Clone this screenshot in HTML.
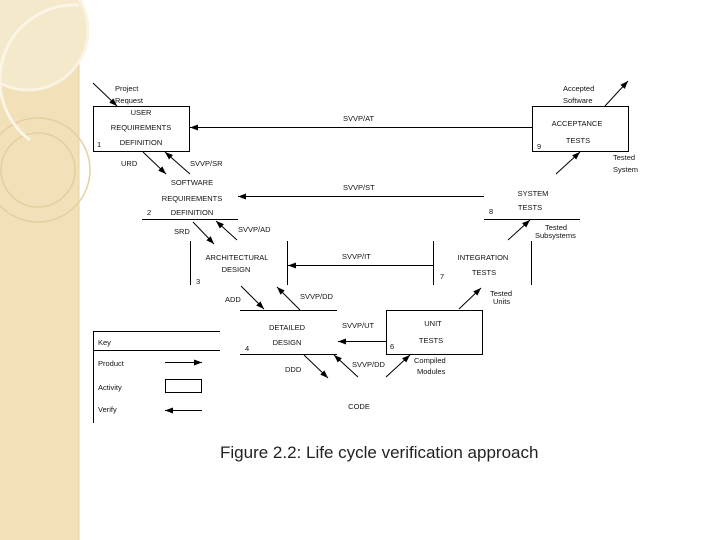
<!DOCTYPE html>
<html><head><meta charset="utf-8"><style>
html,body{margin:0;padding:0;background:#fff;}
svg{display:block;}
text{font-family:"Liberation Sans",sans-serif;font-size:7.5px;fill:#111;}
.c{text-anchor:middle;}
</style></head><body>
<svg width="720" height="540" viewBox="0 0 720 540" xmlns="http://www.w3.org/2000/svg">
<defs>
<marker id="a" markerWidth="8" markerHeight="6" refX="8" refY="3" orient="auto" markerUnits="userSpaceOnUse"><path d="M0,0 L8,3 L0,6 Z" fill="#000"/></marker>
</defs>
<rect x="0" y="0" width="79" height="540" fill="#f1e0b8"/>
<line x1="79" y1="0" x2="79" y2="540" stroke="#e6d3a6" stroke-width="1"/>
<circle cx="28" cy="30" r="60" fill="#f5e9cc" stroke="#fbf3e2" stroke-width="3"/>
<circle cx="38" cy="170" r="52" fill="none" stroke="#e5cf9f" stroke-width="1.5"/>
<circle cx="38" cy="170" r="37" fill="none" stroke="#e5cf9f" stroke-width="1.5"/>
<path d="M79,5 A75,75 0 0 0 30,140" fill="none" stroke="#fbf5e6" stroke-width="3"/>

<g stroke="#000" stroke-width="1" fill="none">
<rect x="93.5" y="106.5" width="96" height="45"/>
<rect x="532.5" y="106.5" width="96" height="45"/>
<rect x="386.5" y="310.5" width="96" height="44"/>
<line x1="142" y1="219.5" x2="238" y2="219.5"/>
<line x1="484" y1="219.5" x2="580" y2="219.5"/>
<line x1="190.5" y1="241" x2="190.5" y2="285"/>
<line x1="287.5" y1="241" x2="287.5" y2="285"/>
<line x1="433.5" y1="241" x2="433.5" y2="285"/>
<line x1="531.5" y1="241" x2="531.5" y2="285"/>
<line x1="240" y1="310.5" x2="337" y2="310.5"/>
<line x1="240" y1="354.5" x2="337" y2="354.5"/>
<!-- key -->
<line x1="93" y1="331.5" x2="220" y2="331.5"/>
<line x1="93" y1="350.5" x2="220" y2="350.5"/>
<line x1="93.5" y1="331" x2="93.5" y2="423"/>
<rect x="165.5" y="379.5" width="36" height="13"/>
</g>
<g stroke="#000" stroke-width="1" marker-end="url(#a)">
<line x1="93" y1="83" x2="117" y2="106"/>
<line x1="532" y1="127.5" x2="190" y2="127.5"/>
<line x1="605" y1="106" x2="628" y2="81"/>
<line x1="556" y1="174" x2="580" y2="152"/>
<line x1="143" y1="152" x2="166" y2="174"/>
<line x1="190" y1="174" x2="165" y2="152"/>
<line x1="484" y1="196.5" x2="238" y2="196.5"/>
<line x1="508" y1="240" x2="530" y2="220"/>
<line x1="193" y1="222" x2="214" y2="244"/>
<line x1="237" y1="240" x2="216" y2="221"/>
<line x1="433" y1="265.5" x2="288" y2="265.5"/>
<line x1="459" y1="309" x2="481" y2="288"/>
<line x1="241" y1="286" x2="264" y2="309"/>
<line x1="300" y1="310" x2="277" y2="287"/>
<line x1="386" y1="341.5" x2="338" y2="341.5"/>
<line x1="304" y1="355" x2="328" y2="378"/>
<line x1="358" y1="377" x2="334" y2="355"/>
<line x1="386" y1="377" x2="410" y2="355"/>
<line x1="165" y1="362.5" x2="202" y2="362.5"/>
<line x1="202" y1="410.5" x2="165" y2="410.5"/>
</g>

<text x="115" y="91">Project</text>
<text x="115" y="103">Request</text>
<text class="c" x="141" y="115">USER</text>
<text class="c" x="141" y="130">REQUIREMENTS</text>
<text class="c" x="141" y="145">DEFINITION</text>
<text x="97" y="147">1</text>
<text x="343" y="121">SVVP/AT</text>
<text x="563" y="91">Accepted</text>
<text x="563" y="103">Software</text>
<text class="c" x="577" y="126">ACCEPTANCE</text>
<text class="c" x="578" y="143">TESTS</text>
<text x="537" y="149">9</text>
<text x="613" y="160">Tested</text>
<text x="613" y="172">System</text>
<text x="121" y="166">URD</text>
<text x="190" y="166">SVVP/SR</text>
<text class="c" x="192" y="185">SOFTWARE</text>
<text class="c" x="192" y="201">REQUIREMENTS</text>
<text class="c" x="192" y="215">DEFINITION</text>
<text x="147" y="215">2</text>
<text x="343" y="190">SVVP/ST</text>
<text class="c" x="533" y="196">SYSTEM</text>
<text class="c" x="530" y="210">TESTS</text>
<text x="489" y="214">8</text>
<text x="545" y="230">Tested</text>
<text x="535" y="238">Subsystems</text>
<text x="174" y="234">SRD</text>
<text x="238" y="232">SVVP/AD</text>
<text class="c" x="237" y="260">ARCHITECTURAL</text>
<text class="c" x="236" y="272">DESIGN</text>
<text x="196" y="284">3</text>
<text x="342" y="259">SVVP/IT</text>
<text class="c" x="483" y="260">INTEGRATION</text>
<text class="c" x="484" y="275">TESTS</text>
<text x="440" y="279">7</text>
<text x="490" y="296">Tested</text>
<text x="493" y="304">Units</text>
<text x="225" y="302">ADD</text>
<text x="300" y="299">SVVP/DD</text>
<text class="c" x="287" y="330">DETAILED</text>
<text class="c" x="287" y="345">DESIGN</text>
<text x="245" y="351">4</text>
<text class="c" x="433" y="326">UNIT</text>
<text class="c" x="431" y="343">TESTS</text>
<text x="390" y="349">6</text>
<text x="342" y="328">SVVP/UT</text>
<text x="285" y="372">DDD</text>
<text x="352" y="367">SVVP/DD</text>
<text x="414" y="363">Compiled</text>
<text x="417" y="374">Modules</text>
<text class="c" x="359" y="409">CODE</text>
<text x="98" y="345">Key</text>
<text x="98" y="366">Product</text>
<text x="98" y="390">Activity</text>
<text x="98" y="412">Verify</text>
<text x="220" y="458" style="font-size:17px;fill:#222">Figure 2.2: Life cycle verification approach</text>
</svg>
</body></html>
